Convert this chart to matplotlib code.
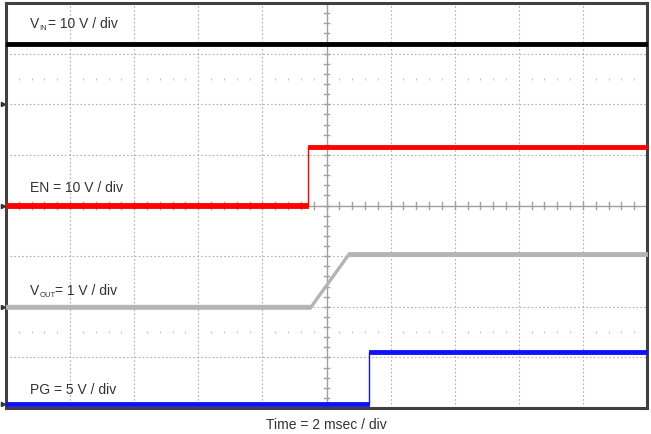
import numpy as np
import matplotlib.pyplot as plt

plt.rcParams['font.family'] = ['Liberation Sans', 'DejaVu Sans']

# time in ms, values in volts
t_vin = [0, 20]
v_vin = [11.9, 11.9]
t_en = [0, 9.42, 9.42, 20]
v_en = [0, 0, 11.5, 11.5]
t_vout = [0, 9.5, 10.68, 20]
v_vout = [0, 0, 1.04, 1.04]
t_pg = [0, 11.33, 11.33, 20]
v_pg = [0, 0, 5.2, 5.2]

# channel: time, volts, ground offset (div), V/div, colour, name, subscript, label text, label row
channels = [
    (t_vin, v_vin, 6.0, 10, 'black', 'V', 'IN', '= 10 V / div', 7.59),
    (t_en, v_en, 4.0, 10, '#ff0000', 'EN', '', ' = 10 V / div', 4.35),
    (t_vout, v_vout, 2.0, 1, '#b4b4b4', 'V', 'OUT', '= 1 V / div', 2.31),
    (t_pg, v_pg, 0.07, 5, '#1010ff', 'PG', '', ' = 5 V / div', 0.36),
]

fig = plt.figure(figsize=(6.51, 4.34), dpi=100)
ax = fig.add_axes([6/651, 26/434, 641/651, 405/434])
ax.set_xlim(0, 20)
ax.set_ylim(0, 8)

# grid
for x in range(2, 20, 2):
    if x != 10:
        ax.axvline(x, color='#b0b0b0', lw=0.8, ls=(0, (1.5, 2)), zorder=1)
for y in range(1, 8):
    if y != 4:
        ax.axhline(y, color='#b0b0b0', lw=0.8, ls=(0, (1.5, 2)), zorder=1)
# small dots on two half-division rows
dx = np.arange(0.4, 20, 0.4)
dx = dx[np.abs(dx / 2 - np.round(dx / 2)) > 0.01]
for y in [1.5, 6.5]:
    ax.plot(dx, np.full_like(dx, y), ls='none', marker='|', ms=2, mew=0.8,
            color='#c4c4c4', zorder=1)

# centre cross with ticks
ax.axvline(10, color='#a0a0a0', lw=1.0, zorder=1)
ax.axhline(4, color='#a0a0a0', lw=1.0, zorder=1)
for y in np.arange(0.2, 8, 0.2):
    ax.plot([10 - 0.09, 10 + 0.09], [y, y], color='#a0a0a0', lw=1.0, zorder=1)
for x in np.arange(0.4, 20, 0.4):
    ax.plot([x, x], [4 - 0.06, 4 + 0.06], color='#a0a0a0', lw=1.0, zorder=1)

# traces
for t, v, off, scale, col, name, sub, rest, ly in channels:
    y = off + np.array(v) / scale
    ax.fill_between(t, y - 0.04, y + 0.04, color=col, lw=0.6, zorder=3)
    ax.plot(t, y, color=col, lw=1.0, zorder=3)
    if sub:
        ax.annotate(name, (0.75, ly), fontsize=10, color='#333333', va='center', ha='left')
        ax.annotate(sub, (0.75, ly), xytext=(6.8, -3.5), textcoords='offset points',
                    fontsize=5.5, color='#333333', va='center', ha='left')
        x0 = 6.8 + (5.8 if sub == 'IN' else 11.5)
        ax.annotate(rest, (0.75, ly), xytext=(x0, 0), textcoords='offset points',
                    fontsize=10, color='#333333', va='center', ha='left')
    else:
        ax.annotate(name + rest, (0.75, ly), fontsize=10, color='#333333',
                    va='center', ha='left')
    ax.plot([-0.08], [off], marker='>', ms=3, color='#333333', clip_on=False)

for s in ax.spines.values():
    s.set_color('#404040')
    s.set_linewidth(2.2)
ax.set_xticks([])
ax.set_yticks([])
ax.set_xlabel('Time = 2 msec / div', fontsize=10, color='#333333', labelpad=7.5)

fig.savefig('out.png', dpi=100)
